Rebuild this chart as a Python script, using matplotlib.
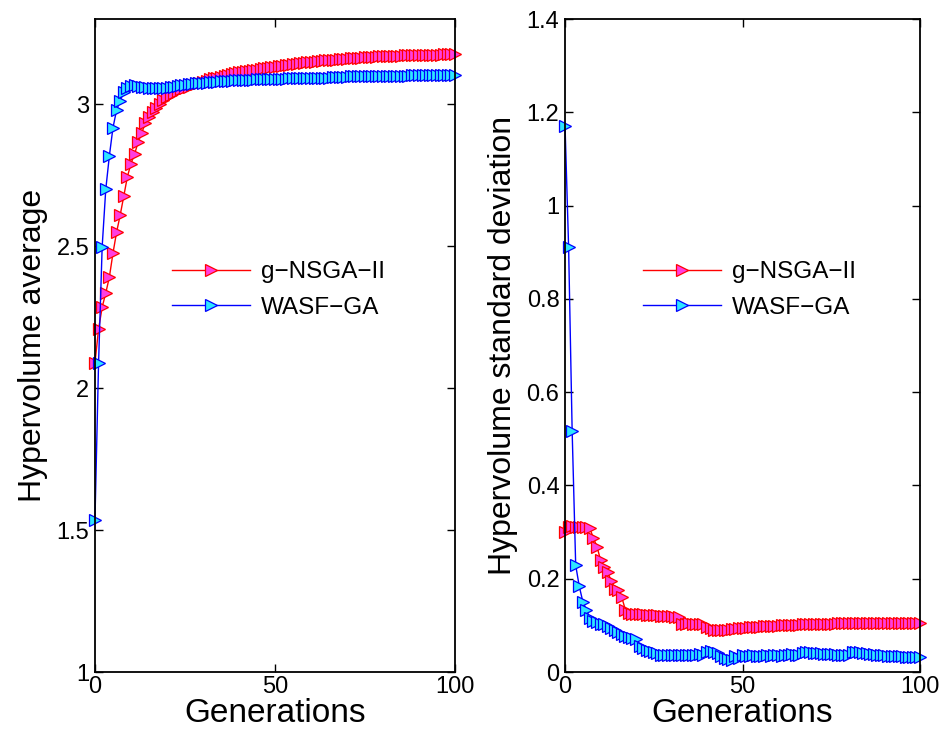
import numpy as np
import matplotlib
matplotlib.use("Agg")
import matplotlib.pyplot as plt

plt.rcParams["font.family"] = ["Liberation Sans", "DejaVu Sans"]

generations = np.arange(0, 101)

# hypervolume average per generation
avg_nsga = [
    2.088, 2.208, 2.285, 2.335, 2.391, 2.475, 2.549, 2.609, 2.676, 2.744,
    2.791, 2.824, 2.867, 2.899, 2.934, 2.955, 2.971, 2.987, 3.002, 3.014,
    3.024, 3.032, 3.040, 3.046, 3.052, 3.057, 3.061, 3.066, 3.070, 3.074,
    3.078, 3.083, 3.087, 3.091, 3.094, 3.097, 3.100, 3.103, 3.106, 3.109,
    3.112, 3.114, 3.116, 3.118, 3.120, 3.122, 3.124, 3.126, 3.128, 3.130,
    3.132, 3.134, 3.136, 3.137, 3.139, 3.141, 3.142, 3.144, 3.145, 3.147,
    3.148, 3.150, 3.151, 3.152, 3.154, 3.155, 3.156, 3.157, 3.158, 3.159,
    3.160, 3.161, 3.162, 3.163, 3.164, 3.165, 3.166, 3.166, 3.167, 3.168,
    3.168, 3.169, 3.170, 3.170, 3.171, 3.171, 3.172, 3.172, 3.173, 3.173,
    3.173, 3.174, 3.174, 3.174, 3.175, 3.175, 3.175, 3.176, 3.176, 3.176,
    3.176,
]
avg_wasf = [
    1.535, 2.088, 2.498, 2.700, 2.818, 2.917, 2.979, 3.012, 3.043, 3.058,
    3.064, 3.066, 3.063, 3.061, 3.059, 3.058, 3.057, 3.056, 3.056, 3.057,
    3.058, 3.060, 3.062, 3.064, 3.066, 3.068, 3.070, 3.072, 3.073, 3.074,
    3.075, 3.076, 3.077, 3.078, 3.079, 3.080, 3.081, 3.082, 3.083, 3.084,
    3.084, 3.085, 3.085, 3.086, 3.086, 3.087, 3.087, 3.088, 3.088, 3.089,
    3.089, 3.090, 3.090, 3.090, 3.091, 3.091, 3.092, 3.092, 3.092, 3.093,
    3.093, 3.093, 3.094, 3.094, 3.094, 3.094, 3.095, 3.095, 3.097, 3.097,
    3.097, 3.098, 3.098, 3.098, 3.098, 3.099, 3.099, 3.099, 3.099, 3.100,
    3.100, 3.100, 3.100, 3.101, 3.101, 3.101, 3.101, 3.101, 3.102, 3.102,
    3.102, 3.102, 3.102, 3.102, 3.102, 3.102, 3.103, 3.103, 3.103, 3.103,
    3.103,
]

# hypervolume standard deviation per generation
std_nsga = [
    0.301, 0.312, 0.313, 0.311, 0.312, 0.310, 0.311, 0.308, 0.287, 0.269,
    0.240, 0.226, 0.215, 0.195, 0.179, 0.175, 0.160, 0.133, 0.126, 0.125,
    0.125, 0.124, 0.124, 0.123, 0.123, 0.122, 0.122, 0.121, 0.121, 0.120,
    0.120, 0.119, 0.118, 0.104, 0.104, 0.105, 0.104, 0.103, 0.103, 0.102,
    0.097, 0.094, 0.091, 0.090, 0.090, 0.091, 0.091, 0.092, 0.093, 0.094,
    0.095, 0.095, 0.096, 0.096, 0.097, 0.097, 0.098, 0.098, 0.099, 0.099,
    0.099, 0.100, 0.100, 0.100, 0.101, 0.101, 0.101, 0.102, 0.102, 0.102,
    0.103, 0.103, 0.103, 0.104, 0.104, 0.104, 0.104, 0.105, 0.105, 0.105,
    0.105, 0.105, 0.105, 0.105, 0.105, 0.105, 0.105, 0.105, 0.105, 0.105,
    0.105, 0.105, 0.105, 0.105, 0.105, 0.105, 0.105, 0.105, 0.105, 0.105,
    0.105,
]
std_wasf = [
    1.171, 0.912, 0.517, 0.229, 0.184, 0.151, 0.134, 0.115, 0.110, 0.107,
    0.104, 0.102, 0.098, 0.095, 0.090, 0.086, 0.082, 0.078, 0.075, 0.072,
    0.070, 0.056, 0.052, 0.048, 0.045, 0.043, 0.040, 0.037, 0.036, 0.036,
    0.037, 0.036, 0.036, 0.037, 0.036, 0.037, 0.036, 0.037, 0.038, 0.037,
    0.042, 0.045, 0.044, 0.040, 0.034, 0.030, 0.028, 0.026, 0.034, 0.030,
    0.036, 0.035, 0.034, 0.036, 0.035, 0.034, 0.035, 0.036, 0.035, 0.037,
    0.036, 0.035, 0.036, 0.037, 0.038, 0.036, 0.037, 0.041, 0.043, 0.042,
    0.041, 0.040, 0.040, 0.039, 0.039, 0.038, 0.038, 0.037, 0.037, 0.036,
    0.036, 0.044, 0.043, 0.042, 0.041, 0.040, 0.039, 0.038, 0.037, 0.036,
    0.036, 0.035, 0.035, 0.034, 0.034, 0.034, 0.033, 0.033, 0.033, 0.033,
    0.033,
]

labels = ["g\u2212NSGA\u2212II", "WASF\u2212GA"]

NSGA_STYLE = dict(color="#ff0000", marker=">", markerfacecolor="#ff3ee0",
                  markeredgecolor="#ff0000", markersize=8.5, markeredgewidth=0.9,
                  lw=1.0, clip_on=False)
WASF_STYLE = dict(color="#0000ff", marker=">", markerfacecolor="#2ee6ff",
                  markeredgecolor="#0000ff", markersize=8.5, markeredgewidth=0.9,
                  lw=1.0, clip_on=False)


def style_axes(ax, yticks):
    ax.set_xlim(0, 100)
    ax.set_xticks([0, 50, 100])
    ax.set_yticks(yticks)
    ax.set_yticklabels([f"{v:g}" for v in yticks])
    ax.tick_params(direction="in", length=6, width=1.0, top=True, right=True,
                   labelsize=17)
    ax.tick_params(axis="x", pad=3)
    ax.tick_params(axis="y", pad=4)
    for sp in ax.spines.values():
        sp.set_linewidth(1.3)
    ax.set_xlabel("Generations", fontsize=24, labelpad=0)


fig = plt.figure(figsize=(9.43, 7.43), dpi=100)
ax1 = fig.add_axes([0.1007, 0.0955, 0.3818, 0.8789])
ax2 = fig.add_axes([0.5992, 0.0955, 0.3764, 0.8789])

ax1.plot(generations, avg_nsga, label=labels[0], **NSGA_STYLE)
ax1.plot(generations, avg_wasf, label=labels[1], **WASF_STYLE)
ax1.set_ylim(1, 3.3)
style_axes(ax1, [1, 1.5, 2, 2.5, 3])
ax1.set_ylabel("Hypervolume average", fontsize=23, labelpad=6)
ax1.legend(loc="center", bbox_to_anchor=(0.51, 0.585), frameon=False,
           fontsize=17.5, numpoints=1, handlelength=3.2, handletextpad=0.45,
           labelspacing=0.55)

ax2.plot(generations, std_nsga, label=labels[0], **NSGA_STYLE)
ax2.plot(generations, std_wasf, label=labels[1], **WASF_STYLE)
ax2.set_ylim(0, 1.4)
style_axes(ax2, [0, 0.2, 0.4, 0.6, 0.8, 1, 1.2, 1.4])
ax2.set_ylabel("Hypervolume standard deviation", fontsize=23, labelpad=6)
ax2.legend(loc="center", bbox_to_anchor=(0.52, 0.585), frameon=False,
           fontsize=17.5, numpoints=1, handlelength=3.2, handletextpad=0.45,
           labelspacing=0.55)

fig.savefig("out.png", dpi=100)
